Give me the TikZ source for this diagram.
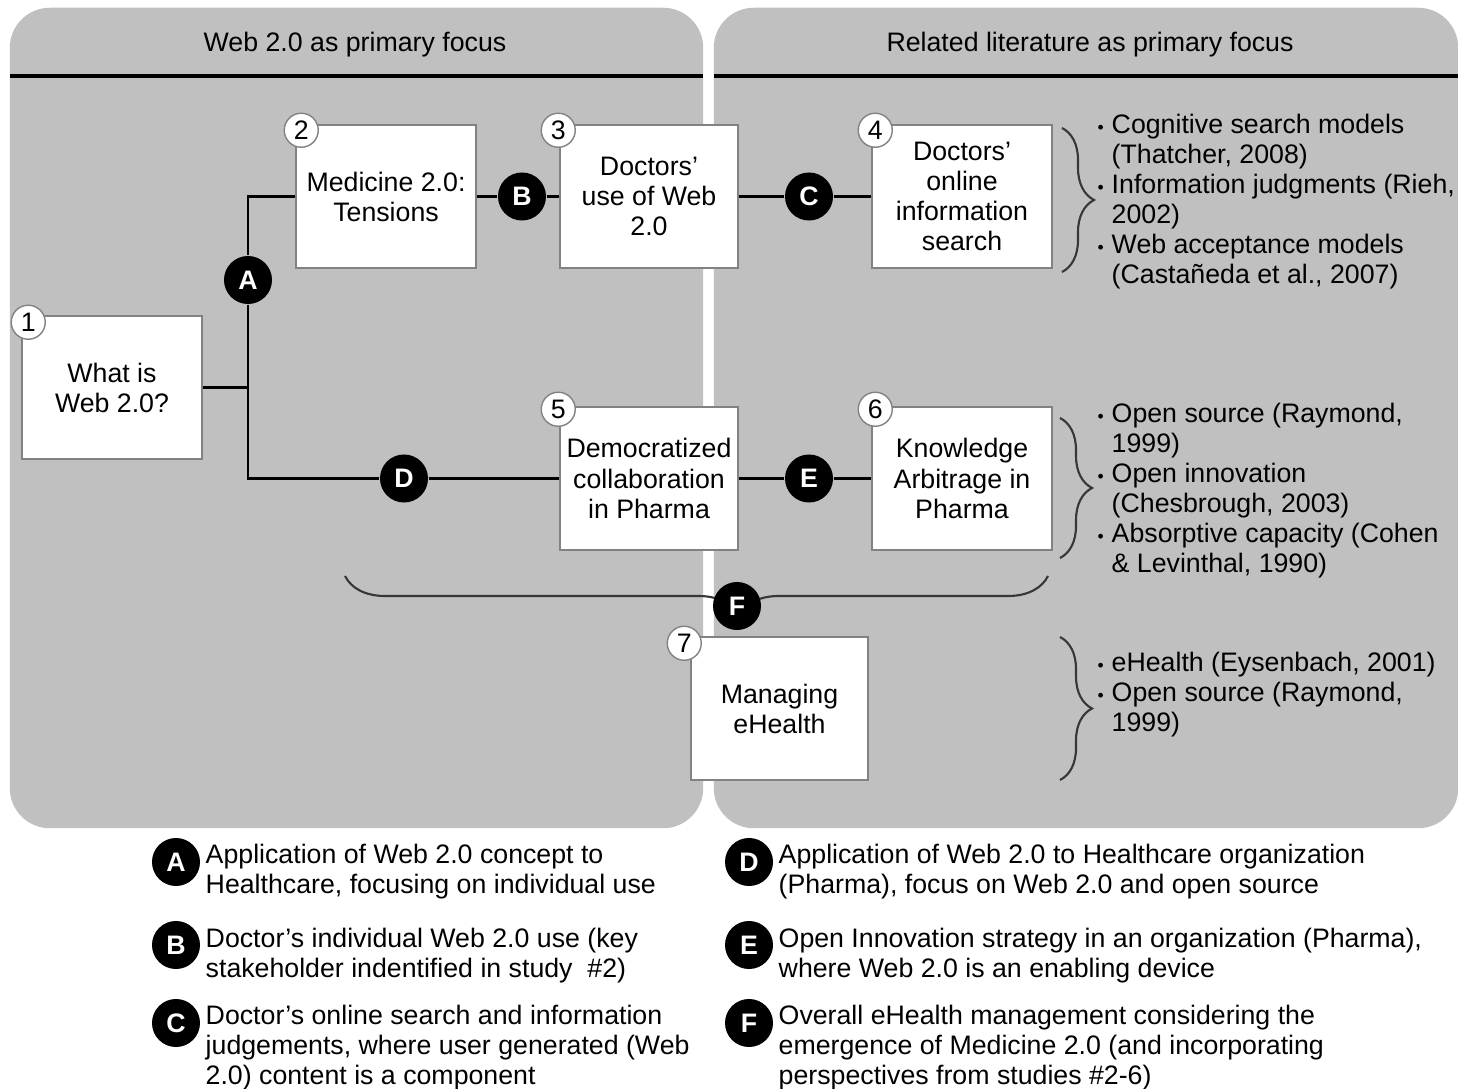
\documentclass[tikz,border=0pt]{standalone}
\usepackage{fontspec}
\setmainfont{Liberation Sans}
\usetikzlibrary{positioning,calc,decorations.pathreplacing}
\definecolor{panelgray}{RGB}{192,192,192}
\definecolor{boxedge}{RGB}{130,130,130}
\definecolor{bracegray}{RGB}{55,55,55}
\newcommand{\bul}{\makebox[0.14cm][l]{\fontsize{5pt}{5pt}\selectfont\textbullet}}
\newcommand{\ind}{\hspace*{0.14cm}}

\begin{document}
\begin{tikzpicture}[
  x=0.01cm, y=-0.01cm,
  every node/.style={font=\fontsize{7.6pt}{8.55pt}\selectfont},
  panel/.style={rectangle, rounded corners=0.4cm, fill=panelgray,
                minimum height=8.2cm},
  topic/.style={rectangle, draw=boxedge, fill=white, align=center,
                minimum width=1.8cm, minimum height=1.43cm, inner sep=1pt},
  numtag/.style={circle, draw=boxedge, fill=white, minimum size=0.34cm,
                 inner sep=0pt},
  link/.style={circle, fill=black, text=white, minimum size=0.48cm,
               inner sep=0pt, font=\fontsize{7.6pt}{8.55pt}\selectfont\bfseries},
  refs/.style={align=left, anchor=north west, inner sep=0pt},
  legend/.style={align=left, anchor=north west, inner sep=0pt},
  rule/.style={draw, black, line width=0.9pt},
  edge/.style={draw, black, line width=0.6pt},
  grp/.style={draw=bracegray, line width=0.6pt, decorate,
              decoration={brace, amplitude=0.32cm}},
]
  \useasboundingbox (0,0) rectangle (1458,1089);

  % two focus panels
  \node[panel, minimum width=6.93cm] (webpanel) at (356.5,418) {};
  \node[panel, minimum width=7.44cm] (litpanel) at (1086,418) {};
  \node (webhead) at (355,45) {Web 2.0 as primary focus};
  \node (lithead) at (1090,45) {Related literature as primary focus};
  \draw[rule] (10,76) -- (703,76);
  \draw[rule] (714,76) -- (1458,76);

  % braces
  \draw[grp, decoration={brace, amplitude=0.4cm, aspect=0.44}]
       (1048,576) -- (345,576);
  \draw[grp] (1062,128) -- (1062,272);
  \draw[grp] (1060,418) -- (1060,558);
  \draw[grp] (1060,637) -- (1060,780);

  % studies
  \node[topic] (whatis) at (112,387.5) {What is\\Web 2.0?};
  \node[topic] (medicine) at (386,196.5) {Medicine 2.0:\\Tensions};
  \node[topic, minimum width=1.78cm] (docuse) at (649,196.5)
       {Doctors’\\use of Web\\2.0};
  \node[topic] (docsearch) at (962,196.5)
       {Doctors’\\online\\information\\search};
  \node[topic, minimum width=1.78cm] (democ) at (649,478.5)
       {Democratized\\collaboration\\in Pharma};
  \node[topic] (arbitrage) at (962,478.5)
       {Knowledge\\Arbitrage in\\Pharma};
  \node[topic, minimum width=1.77cm] (ehealth) at (779.5,708.5)
       {Managing\\eHealth};

  \node[numtag] (num1) at ([shift={(7,7)}]whatis.north west) {1};
  \node[numtag] (num2) at ([shift={(6,6)}]medicine.north west) {2};
  \node[numtag] (num3) at ([shift={(-1,6)}]docuse.north west) {3};
  \node[numtag] (num4) at ([shift={(4,6)}]docsearch.north west) {4};
  \node[numtag] (num5) at ([shift={(-1,3)}]democ.north west) {5};
  \node[numtag] (num6) at ([shift={(4,3)}]arbitrage.north west) {6};
  \node[numtag] (num7) at ([shift={(-6,7)}]ehealth.north west) {7};

  % links between studies
  \node[link] (linkA) at (248,280) {A};
  \node[link] (linkB) at (522,196.5) {B};
  \node[link] (linkC) at (809,196.5) {C};
  \node[link] (linkD) at (404,478.5) {D};
  \node[link] (linkE) at (809,478.5) {E};
  \node[link] (linkF) at (737,606) {F};

  \coordinate (split) at (linkA |- whatis.east);
  \draw[edge] (whatis.east) -- (split);
  \draw[edge] (medicine.west) -| (linkA);
  \draw[edge] (linkA) |- (linkD);
  \draw[edge] (linkD) -- (democ);
  \draw[edge] (medicine) -- (linkB);
  \draw[edge] (linkB) -- (docuse);
  \draw[edge] (docuse) -- (linkC);
  \draw[edge] (linkC) -- (docsearch);
  \draw[edge] (democ) -- (linkE);
  \draw[edge] (linkE) -- (arbitrage);

  % related literature
  \node[refs] (lit1) at (1097,113)
       {\bul Cognitive search models\\
        \ind (Thatcher, 2008)\\
        \bul Information judgments (Rieh,\\
        \ind 2002)\\
        \bul Web acceptance models\\
        \ind (Castañeda et al., 2007)};
  \node[refs] (lit2) at (1097,402)
       {\bul Open source (Raymond,\\
        \ind 1999)\\
        \bul Open innovation\\
        \ind (Chesbrough, 2003)\\
        \bul Absorptive capacity (Cohen\\
        \ind \& Levinthal, 1990)};
  \node[refs] (lit3) at (1097,651)
       {\bul eHealth (Eysenbach, 2001)\\
        \bul Open source (Raymond,\\
        \ind 1999)};

  % legend
  \node[link] (keyA) at (176,862) {A};
  \node[link] (keyB) at (176,945) {B};
  \node[link] (keyC) at (176,1023) {C};
  \node[link] (keyD) at (749,862) {D};
  \node[link] (keyE) at (749,945) {E};
  \node[link] (keyF) at (749,1023) {F};
  \node[legend] (textA) at (205,843)
       {Application of Web 2.0 concept to\\
        Healthcare, focusing on individual use};
  \node[legend] (textB) at (205,927)
       {Doctor’s individual Web 2.0 use (key\\
        stakeholder indentified in study\ \ \#2)};
  \node[legend] (textC) at (205,1004)
       {Doctor’s online search and information\\
        judgements, where user generated (Web\\
        2.0) content is a component};
  \node[legend] (textD) at (778,843)
       {Application of Web 2.0 to Healthcare organization\\
        (Pharma), focus on Web 2.0 and open source};
  \node[legend] (textE) at (778,927)
       {Open Innovation strategy in an organization (Pharma),\\
        where Web 2.0 is an enabling device};
  \node[legend] (textF) at (778,1004)
       {Overall eHealth management considering the\\
        emergence of Medicine 2.0 (and incorporating\\
        perspectives from studies \#2-6)};
\end{tikzpicture}
\end{document}
